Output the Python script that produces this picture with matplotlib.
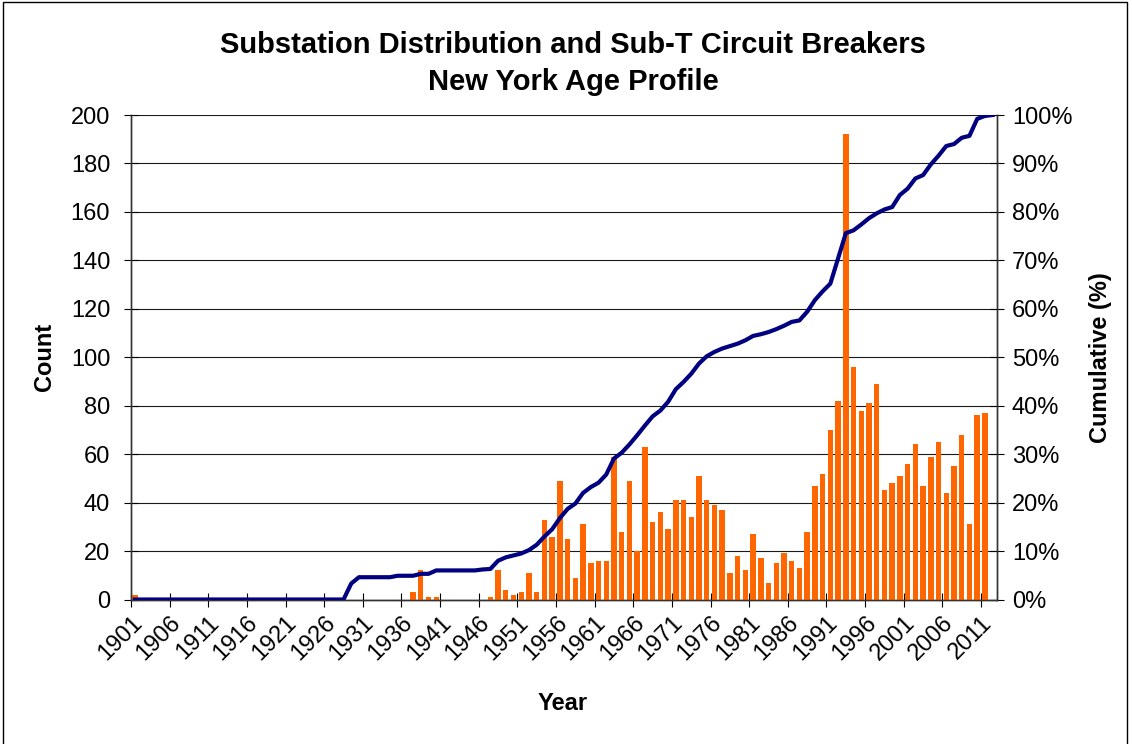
import matplotlib
matplotlib.use("Agg")
import matplotlib.pyplot as plt
import matplotlib.patches as mpatches
from matplotlib.ticker import FixedLocator, FuncFormatter
import numpy as np

plt.rcParams['font.family'] = ['Liberation Sans', 'DejaVu Sans']

years = list(range(1901, 2013))

# Count per year (non-zero years listed; others 0)
count_nonzero = {
    1901: 2, 1937: 3, 1938: 12, 1939: 1, 1940: 1,
    1947: 1, 1948: 12, 1949: 4, 1950: 2, 1951: 3, 1952: 11, 1953: 3,
    1954: 33, 1955: 26, 1956: 49, 1957: 25, 1958: 9, 1959: 31, 1960: 15,
    1961: 16, 1962: 16, 1963: 59, 1964: 28, 1965: 49, 1966: 20, 1967: 63,
    1968: 32, 1969: 36, 1970: 29, 1971: 41, 1972: 41, 1973: 34, 1974: 51,
    1975: 41, 1976: 39, 1977: 37, 1978: 11, 1979: 18, 1980: 12, 1981: 27,
    1982: 17, 1983: 7, 1984: 15, 1985: 19, 1986: 16, 1987: 13, 1988: 28,
    1989: 47, 1990: 52, 1991: 70, 1992: 82, 1993: 192, 1994: 96, 1995: 78,
    1996: 81, 1997: 89, 1998: 45, 1999: 48, 2000: 51, 2001: 56, 2002: 64,
    2003: 47, 2004: 59, 2005: 65, 2006: 44, 2007: 55, 2008: 68, 2009: 31,
    2010: 76, 2011: 77,
}
counts = [count_nonzero.get(y, 0) for y in years]

# Cumulative (%) per year
cum_nonzero = {
    1929: 3.3, 1930: 4.6, 1931: 4.6, 1932: 4.6, 1933: 4.6, 1934: 4.6,
    1935: 4.9, 1936: 4.9, 1937: 4.9, 1938: 5.3, 1939: 5.3, 1940: 6.0,
    1941: 6.0, 1942: 6.0, 1943: 6.0, 1944: 6.0, 1945: 6.0, 1946: 6.2,
    1947: 6.3, 1948: 8.0, 1949: 8.7, 1950: 9.1, 1951: 9.5, 1952: 10.2,
    1953: 11.3, 1954: 13.0, 1955: 14.5, 1956: 16.8, 1957: 18.7, 1958: 19.8,
    1959: 22.0, 1960: 23.2, 1961: 24.1, 1962: 25.8, 1963: 29.1, 1964: 30.3,
    1965: 32.0, 1966: 33.9, 1967: 35.9, 1968: 37.8, 1969: 39.0, 1970: 40.8,
    1971: 43.4, 1972: 44.9, 1973: 46.6, 1974: 48.7, 1975: 50.2, 1976: 51.1,
    1977: 51.8, 1978: 52.3, 1979: 52.8, 1980: 53.5, 1981: 54.4, 1982: 54.75,
    1983: 55.2, 1984: 55.8, 1985: 56.5, 1986: 57.3, 1987: 57.6, 1988: 59.4,
    1989: 61.8, 1990: 63.6, 1991: 65.2, 1992: 70.4, 1993: 75.6, 1994: 76.2,
    1995: 77.4, 1996: 78.7, 1997: 79.7, 1998: 80.5, 1999: 81.0, 2000: 83.5,
    2001: 84.8, 2002: 86.9, 2003: 87.6, 2004: 89.8, 2005: 91.6, 2006: 93.6,
    2007: 94.0, 2008: 95.3, 2009: 95.7, 2010: 99.2, 2011: 99.8, 2012: 100.0,
}
cumulative = [cum_nonzero.get(y, 0.0) for y in years]

tick_years = list(range(1901, 2012, 5))

W, H = 1132, 744
fig = plt.figure(figsize=(W / 100, H / 100), dpi=100)
ax = fig.add_axes([131 / W, 1 - 599.5 / H, (996.5 - 131) / W, (599.5 - 115) / H])
ax2 = ax.twinx()

x = np.arange(len(years))
ax.bar(x, counts, width=0.7, color='#FF6600', zorder=3)
ax2.plot(x, cumulative, color='#000080', lw=3.0, zorder=4, solid_joinstyle='round')

ax.set_xlim(-0.5, len(years) - 0.5)
ax.set_ylim(0, 200)
ax2.set_ylim(0, 100)
ax.set_yticks(range(0, 201, 20))
ax2.set_yticks(range(0, 101, 10))
ax2.yaxis.set_major_formatter(FuncFormatter(lambda v, p: f"{int(v)}%"))

ax.yaxis.grid(True, color='#1a1a1a', lw=0.8, zorder=0)
ax.set_axisbelow(True)

tick_pos = [years.index(y) - 0.5 for y in tick_years]
ax.xaxis.set_major_locator(FixedLocator(tick_pos))
ax.set_xticklabels([str(y) for y in tick_years], rotation=45, ha='right',
                   rotation_mode='anchor', fontsize=17)
ax.tick_params(axis='x', direction='inout', length=10, width=0.8, pad=4)
ax.tick_params(axis='y', direction='inout', length=10, width=0.8, labelsize=17, pad=10)
ax2.tick_params(axis='y', direction='inout', length=10, width=0.8, labelsize=17, pad=6)

for a in (ax, ax2):
    a.spines['top'].set_visible(False)
    for s in ('left', 'right', 'bottom'):
        a.spines[s].set_color('#333333')
        a.spines[s].set_linewidth(1.0)
ax.patch.set_visible(False)

ax.set_ylabel('Count', fontsize=17, fontweight='bold')
ax.yaxis.set_label_coords((45 - 131) / (996.5 - 131), 0.5)
ax2.set_ylabel('Cumulative (%)', fontsize=17, fontweight='bold')
ax2.yaxis.set_label_coords((1100 - 131) / (996.5 - 131), 0.5)
ax.set_xlabel('Year', fontsize=17, fontweight='bold')
ax.xaxis.set_label_coords((563 - 131) / (996.5 - 131), -(703 - 599.5) / (599.5 - 115))
ax.xaxis.label.set_va('center')
ax.yaxis.label.set_va('center')
ax2.yaxis.label.set_va('center')

fig.text(573 / W, 1 - 45 / H, 'Substation Distribution and Sub-T Circuit Breakers',
         ha='center', va='center', fontsize=21, fontweight='bold')
fig.text(573 / W, 1 - 82 / H, 'New York Age Profile',
         ha='center', va='center', fontsize=21, fontweight='bold')

fig.patches.append(mpatches.Rectangle((3 / W, -0.01), (1127 - 3) / W, 1 - 2 / H + 0.01,
                                      transform=fig.transFigure, fill=False,
                                      edgecolor='black', lw=1.0))

fig.savefig('out.png', dpi=100)
